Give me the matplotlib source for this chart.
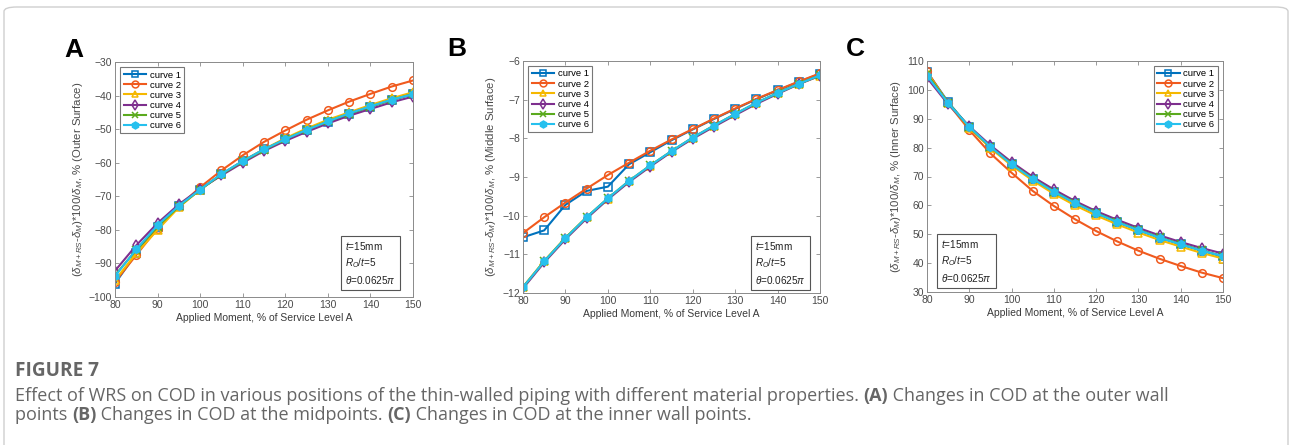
import numpy as np
import matplotlib
matplotlib.use("Agg")
import matplotlib.pyplot as plt
from matplotlib.patches import FancyBboxPatch

plt.rcParams['font.family'] = ['Liberation Sans', 'DejaVu Sans']
plt.rcParams['mathtext.fontset'] = 'custom'
plt.rcParams['mathtext.it'] = 'Liberation Sans:italic'
plt.rcParams['mathtext.rm'] = 'Liberation Sans'

# applied moment, % of service level A
moment = [80, 85, 90, 95, 100, 105, 110, 115, 120, 125, 130, 135, 140, 145, 150]
labels = ['curve 1', 'curve 2', 'curve 3', 'curve 4', 'curve 5', 'curve 6']

# (A) outer surface
outer = [
    [-96.0, -87.0, -79.0, -73.0, -68.0, -63.5, -59.5, -56.0, -53.0, -50.3, -47.8, -45.5, -43.3, -41.3, -39.6],
    [-95.5, -87.5, -79.6, -73.0, -67.3, -62.3, -57.8, -53.8, -50.4, -47.2, -44.4, -41.8, -39.5, -37.3, -35.5],
    [-95.0, -87.0, -80.0, -73.3, -68.0, -63.5, -59.5, -56.0, -52.7, -49.8, -47.2, -45.0, -42.8, -40.8, -39.0],
    [-92.2, -84.6, -78.0, -72.4, -67.8, -63.8, -60.0, -56.5, -53.5, -50.8, -48.3, -46.0, -44.0, -42.0, -40.3],
    [-93.5, -86.0, -79.0, -73.0, -68.0, -63.5, -59.6, -56.2, -53.0, -50.2, -47.7, -45.4, -43.3, -41.3, -39.5],
    [-93.8, -85.8, -78.6, -72.8, -68.0, -63.3, -59.5, -56.0, -53.0, -50.2, -47.7, -45.3, -43.2, -41.2, -39.6],
]

# (B) middle surface
middle = [
    [-10.56, -10.38, -9.72, -9.36, -9.25, -8.67, -8.36, -8.05, -7.77, -7.50, -7.24, -6.99, -6.76, -6.54, -6.33],
    [-10.45, -10.04, -9.66, -9.30, -8.95, -8.63, -8.32, -8.03, -7.76, -7.49, -7.23, -6.98, -6.75, -6.53, -6.32],
    [-11.84, -11.17, -10.57, -10.04, -9.56, -9.11, -8.71, -8.34, -7.99, -7.68, -7.38, -7.09, -6.83, -6.59, -6.38],
    [-11.88, -11.21, -10.61, -10.07, -9.58, -9.13, -8.73, -8.35, -8.01, -7.70, -7.40, -7.11, -6.85, -6.60, -6.38],
    [-11.85, -11.18, -10.58, -10.04, -9.55, -9.10, -8.70, -8.33, -7.98, -7.67, -7.37, -7.08, -6.83, -6.59, -6.37],
    [-11.85, -11.18, -10.58, -10.04, -9.55, -9.10, -8.70, -8.33, -7.98, -7.67, -7.37, -7.08, -6.83, -6.59, -6.37],
]

# (C) inner surface
inner = [
    [106.3, 95.8, 87.1, 80.1, 74.3, 69.2, 64.7, 60.8, 57.3, 54.2, 51.4, 48.8, 46.5, 44.3, 42.4],
    [106.5, 95.3, 86.1, 78.0, 71.3, 65.0, 59.8, 55.2, 51.1, 47.5, 44.3, 41.5, 39.0, 36.7, 34.8],
    [106.0, 95.5, 86.9, 79.8, 73.8, 68.6, 64.0, 60.0, 56.5, 53.4, 50.6, 48.0, 45.7, 43.5, 41.6],
    [104.2, 95.0, 87.4, 80.8, 75.0, 69.9, 65.5, 61.5, 58.0, 55.0, 52.2, 49.6, 47.3, 45.2, 43.3],
    [105.5, 95.5, 87.1, 80.2, 74.4, 69.3, 64.8, 60.9, 57.4, 54.3, 51.5, 48.9, 46.6, 44.4, 42.3],
    [104.9, 95.4, 87.2, 80.3, 74.2, 69.2, 64.7, 60.8, 57.3, 54.2, 51.4, 48.8, 46.5, 44.3, 42.4],
]

colors = ['#0072BD', '#F05A1E', '#F5B800', '#7E2F8E', '#5BAA1E', '#26C0EE']
markers = ['s', 'o', '^', 'd', 'x', 'h']

fig = plt.figure(figsize=(12.9, 4.45), dpi=100)
W, H = 1290.0, 445.0

# light frame around the whole figure
frame = FancyBboxPatch((4 / W, -0.2), 1284 / W, 1.2 - 7 / H,
                       boxstyle='round,pad=0,rounding_size=0.01',
                       transform=fig.transFigure, fill=False,
                       edgecolor='#cfcfcf', linewidth=1.0)
fig.patches.append(frame)

# letter, data, ylim, yticks, label, axes box (px), legend loc, note box (x, y, ha)
panels = [
    ('A', outer, (-100, -30), np.arange(-100, -29, 10), 'Outer Surface',
     [115, 62, 413, 297], 'upper left', (0.943, 0.047, 'right')),
    ('B', middle, (-12, -6), np.arange(-12, -5.5, 1), 'Middle Surface',
     [523, 61, 820, 293], 'upper left', (0.953, 0.03, 'right')),
    ('C', inner, (30, 110), np.arange(30, 111, 10), 'Inner Surface',
     [927, 61, 1223, 292], 'upper right', (0.047, 0.034, 'left')),
]

note = '$t$=15mm\n$R_O$/$t$=5\n$\\theta$=0.0625$\\pi$'

for letter, data, ylim, yticks, surf, box, legloc, (nx, ny, nha) in panels:
    x0, y0, x1, y1 = box
    ax = fig.add_axes([x0 / W, 1 - y1 / H, (x1 - x0) / W, (y1 - y0) / H])
    for i in range(6):
        face = colors[i] if markers[i] == 'h' else 'none'
        ax.plot(moment, data[i], color=colors[i], marker=markers[i],
                markersize=5.5, markerfacecolor=face, markeredgewidth=1.1,
                linewidth=1.5, label=labels[i])
    ax.set_xlim(80, 150)
    ax.set_ylim(*ylim)
    ax.set_xticks(np.arange(80, 151, 10))
    ax.set_yticks(yticks)
    ax.tick_params(direction='in', top=True, right=True, length=3, width=0.6,
                   labelsize=7.5, colors='#8a8a8a', labelcolor='#4a4a4a', pad=2)
    for s in ax.spines.values():
        s.set_color('#8a8a8a')
        s.set_linewidth(0.7)
    ax.set_xlabel('Applied Moment, % of Service Level A', fontsize=7.5,
                  color='#3a3a3a', labelpad=2)
    ax.set_ylabel('$(\\delta_{M+RS}$-$\\delta_M)$*100/$\\delta_M$, % (' + surf + ')',
                  fontsize=8.2, color='#4a4a4a', labelpad=3)
    leg = ax.legend(loc=legloc, fontsize=6.8, handlelength=2.4, handletextpad=0.4,
                    labelspacing=0.12, borderpad=0.35, frameon=True, fancybox=False,
                    borderaxespad=0.55, markerscale=0.9)
    leg.get_frame().set_edgecolor('#555555')
    leg.get_frame().set_linewidth(0.8)
    ax.text(nx, ny, note, transform=ax.transAxes, ha=nha, va='bottom',
            multialignment='left', fontsize=7.2, color='#222222', linespacing=1.4,
            bbox=dict(boxstyle='square,pad=0.4', facecolor='white',
                      edgecolor='#555555', linewidth=0.8))

# panel letters
fig.text(74 / W, 1 - 50 / H, 'A', fontsize=19, fontweight='bold', ha='center', va='center')
fig.text(457 / W, 1 - 49 / H, 'B', fontsize=19, fontweight='bold', ha='center', va='center')
fig.text(855 / W, 1 - 49 / H, 'C', fontsize=19, fontweight='bold', ha='center', va='center')

# caption
cap_color = '#666666'
cap_font = ['Open Sans', 'DejaVu Sans']
renderer = fig.canvas.get_renderer()

line1 = [
    ('Effect of WRS on COD in various positions of the thin-walled piping with '
     'different material properties. ', False),
    ('(A)', True),
    (' Changes in COD at the outer wall', False),
]
line2 = [
    ('points ', False),
    ('(B)', True),
    (' Changes in COD at the midpoints. ', False),
    ('(C)', True),
    (' Changes in COD at the inner wall points.', False),
]


def caption_line(parts, ypix, size):
    x = 15 / W
    made = []
    for txt, bold in parts:
        t = fig.text(x, 1 - ypix / H, txt, fontsize=size, family=cap_font,
                     fontweight='bold' if bold else 'normal', color=cap_color,
                     va='center')
        bb = t.get_window_extent(renderer=renderer)
        x = bb.x1 / fig.bbox.width
        made.append(t)
    return made, x * W - 15


# size the caption so the first line spans roughly the width it has in the figure
probe, width = caption_line(line1, 396, 10)
for t in probe:
    t.remove()
cap_size = 10 * 1160 / width
caption_line(line1, 396, cap_size)
caption_line(line2, 415, cap_size)

fig.text(15 / W, 1 - 371 / H, 'FIGURE 7', fontsize=cap_size * 1.05, fontweight='bold',
         family=cap_font, color=cap_color, va='center')

fig.savefig('out.png', dpi=100)
